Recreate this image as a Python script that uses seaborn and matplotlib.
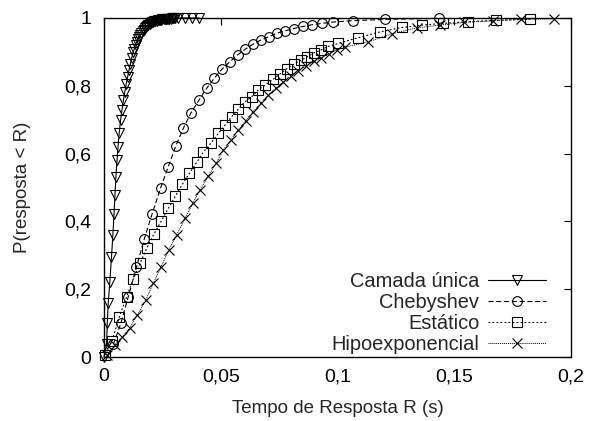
import matplotlib
matplotlib.use("Agg")
import matplotlib.pyplot as plt
import seaborn as sns
import pandas as pd

# Response time (s) and cumulative probability for each configuration
camada_t = [0.0000, 0.0011, 0.0014, 0.0018, 0.0025, 0.0032, 0.0038, 0.0043, 0.0047, 0.0051,
            0.0056, 0.0060, 0.0065, 0.0071, 0.0077, 0.0083, 0.0089, 0.0095, 0.0101, 0.0107,
            0.0113, 0.0119, 0.0125, 0.0130, 0.0135, 0.0140, 0.0145, 0.0150, 0.0155, 0.0160,
            0.0165, 0.0170, 0.0175, 0.0180, 0.0185, 0.0190, 0.0195, 0.0200, 0.0205, 0.0210,
            0.0215, 0.0220, 0.0225, 0.0230, 0.0235, 0.0240, 0.0245, 0.0250, 0.0255, 0.0260,
            0.0265, 0.0270, 0.0275, 0.0280, 0.0285, 0.0290, 0.0295, 0.0300, 0.0305, 0.0317,
            0.0347, 0.0377, 0.0407]
camada_p = [0.000, 0.038, 0.099, 0.158, 0.222, 0.294, 0.360, 0.422, 0.478, 0.532,
            0.581, 0.620, 0.660, 0.699, 0.729, 0.757, 0.782, 0.805, 0.826, 0.846,
            0.865, 0.883, 0.899, 0.910, 0.920, 0.929, 0.937, 0.944, 0.950, 0.956,
            0.961, 0.966, 0.970, 0.974, 0.977, 0.980, 0.983, 0.985, 0.987, 0.989,
            0.990, 0.991, 0.992, 0.993, 0.994, 0.995, 0.995, 0.996, 0.996, 0.997,
            0.997, 0.997, 0.998, 0.998, 0.998, 0.999, 0.999, 0.999, 0.999, 1.000,
            1.000, 1.000, 1.000]

cheby_t = [0.0040, 0.0072, 0.0104, 0.0139, 0.0172, 0.0206, 0.0242, 0.0275, 0.0307, 0.0340,
           0.0373, 0.0407, 0.0440, 0.0472, 0.0505, 0.0539, 0.0572, 0.0605, 0.0639, 0.0672,
           0.0706, 0.0740, 0.0775, 0.0812, 0.0851, 0.0890, 0.0932, 0.0980, 0.1065, 0.1203,
           0.1436]
cheby_p = [0.037, 0.099, 0.178, 0.265, 0.347, 0.422, 0.498, 0.561, 0.622, 0.675,
           0.721, 0.758, 0.793, 0.822, 0.849, 0.871, 0.891, 0.908, 0.923, 0.935,
           0.945, 0.955, 0.962, 0.969, 0.975, 0.980, 0.984, 0.988, 0.992, 0.996,
           0.999]

estatico_t = [0.0004, 0.0034, 0.0066, 0.0097, 0.0125, 0.0154, 0.0183, 0.0214, 0.0246, 0.0276,
              0.0306, 0.0336, 0.0366, 0.0397, 0.0426, 0.0457, 0.0490, 0.0518, 0.0547, 0.0575,
              0.0604, 0.0633, 0.0661, 0.0690, 0.0724, 0.0754, 0.0782, 0.0812, 0.0842, 0.0869,
              0.0899, 0.0929, 0.0959, 0.1003, 0.1089, 0.1182, 0.1275, 0.1362, 0.1452, 0.1557,
              0.1680, 0.1824]
estatico_p = [0.006, 0.047, 0.119, 0.178, 0.229, 0.276, 0.321, 0.363, 0.402, 0.439,
              0.475, 0.510, 0.542, 0.574, 0.605, 0.630, 0.660, 0.684, 0.709, 0.731,
              0.753, 0.768, 0.788, 0.802, 0.819, 0.835, 0.850, 0.863, 0.875, 0.885,
              0.897, 0.906, 0.916, 0.925, 0.942, 0.959, 0.972, 0.979, 0.984, 0.989,
              0.993, 0.996]

hipo_t = [0.0012, 0.0046, 0.0078, 0.0111, 0.0143, 0.0179, 0.0211, 0.0244, 0.0278, 0.0311,
          0.0347, 0.0380, 0.0412, 0.0447, 0.0480, 0.0511, 0.0543, 0.0575, 0.0608, 0.0639,
          0.0671, 0.0704, 0.0737, 0.0768, 0.0800, 0.0832, 0.0865, 0.0898, 0.0931, 0.0964,
          0.0998, 0.1032, 0.1132, 0.1232, 0.1339, 0.1439, 0.1542, 0.1666, 0.1786, 0.1927]
hipo_p = [0.006, 0.035, 0.059, 0.086, 0.124, 0.168, 0.217, 0.266, 0.316, 0.360,
          0.409, 0.453, 0.494, 0.535, 0.571, 0.611, 0.640, 0.670, 0.697, 0.724,
          0.748, 0.773, 0.793, 0.812, 0.829, 0.845, 0.858, 0.872, 0.883, 0.895,
          0.906, 0.914, 0.930, 0.953, 0.971, 0.979, 0.987, 0.992, 0.996, 0.998]

series_names = ["Camada única", "Chebyshev", "Estático", "Hipoexponencial"]
x_ticks = [0, 0.05, 0.1, 0.15, 0.2]
x_tick_labels = ["0", "0,05", "0,1", "0,15", "0,2"]
y_ticks = [0, 0.2, 0.4, 0.6, 0.8, 1.0]
y_tick_labels = ["0", "0,2", "0,4", "0,6", "0,8", "1"]

sns.set_style("white")
plt.rcParams["font.family"] = ["Liberation Sans", "DejaVu Sans"]

fig = plt.figure(figsize=(5.89, 4.21), dpi=100)
ax = fig.add_axes([104 / 589, 1 - 357 / 421, 467 / 589, 339 / 421])

styles = [
    dict(marker="v", linestyle="-", ms=7.6, lw=0.8),
    dict(marker="o", linestyle=(0, (4.5, 2.5)), ms=7.0, lw=0.8),
    dict(marker="s", linestyle=(0, (1.6, 2.0)), ms=6.6, lw=0.8),
    dict(marker="x", linestyle=(0, (1.0, 1.0)), ms=7.4, lw=0.7),
]
datasets = [(camada_t, camada_p), (cheby_t, cheby_p),
            (estatico_t, estatico_p), (hipo_t, hipo_p)]

for name, (t, p), st in zip(series_names, datasets, styles):
    df = pd.DataFrame({"tempo": t, "prob": p})
    sns.lineplot(data=df, x="tempo", y="prob", ax=ax, label=name,
                 estimator=None, sort=False, color="black",
                 marker=st["marker"], linestyle=st["linestyle"],
                 markersize=st["ms"], linewidth=st["lw"],
                 markerfacecolor="none", markeredgecolor="black",
                 markeredgewidth=0.8, clip_on=False)

ax.set_xlim(0, 0.2)
ax.set_ylim(0, 1)
ax.set_xticks(x_ticks)
ax.set_xticklabels(x_tick_labels)
ax.set_yticks(y_ticks)
ax.set_yticklabels(y_tick_labels)
ax.tick_params(axis="both", which="major", direction="in", length=5, width=0.8,
               top=True, right=True, labelsize=14, colors="black")
ax.tick_params(axis="x", pad=8)
ax.tick_params(axis="y", pad=9)
for sp in ax.spines.values():
    sp.set_visible(True)
    sp.set_color("black")
    sp.set_linewidth(1.0)

ax.set_xlabel("Tempo de Resposta R (s)", fontsize=13.5, labelpad=11)
ax.set_ylabel("P(resposta < R)", fontsize=13.5, labelpad=24)

leg = ax.legend(loc="lower right", bbox_to_anchor=(0.947, 0.009), frameon=False,
                markerfirst=False, fontsize=14.4, handlelength=2.9, handletextpad=0.45,
                labelspacing=0.1, borderpad=0.0, borderaxespad=0.0)

fig.savefig("out.png", dpi=100)
